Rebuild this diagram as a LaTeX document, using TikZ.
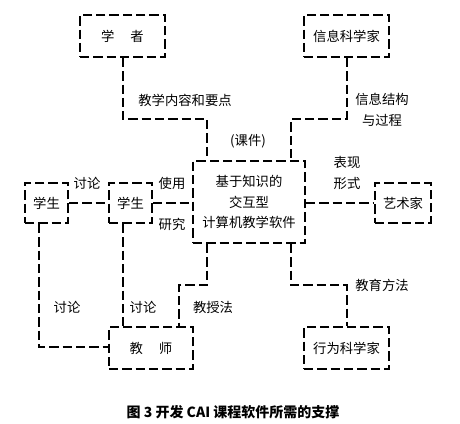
\documentclass[tikz,border=0pt]{standalone}
\usepackage{fontspec}
\newfontfamily\cjk{Noto Sans CJK SC}
\begin{document}
\begin{tikzpicture}[x=0.75pt,y=-0.75pt,
  every node/.style={font=\cjk\fontsize{10}{15.4}\selectfont},
  box/.style={draw,line width=1.5pt,dash pattern=on 7pt off 3pt,inner sep=0pt,align=center},
  wire/.style={line width=1.5pt,dash pattern=on 7pt off 3pt},
  tag/.style={align=center,inner sep=1pt}]
  \useasboundingbox (0,0) rectangle (460,424);
  % boxes -- centre x / centre y / width / height, all in pixels
  \foreach \name/\x/\y/\w/\h/\txt in {xz/122.5/36/85/42/{学\hspace{1.2em}者},
                                     xxk/346.5/36/85/42/信息科学家,
                                     ctr/249/202/112/82/{基于知识的\\交互型\\计算机教学软件},
                                     xs1/46.5/203/43/40/学生, xs2/130.5/203/43/40/学生,
                                     ysj/403/203/56/40/艺术家,
                                     js/151/348/84/42/{教\hspace{1.2em}师},
                                     xwk/346.5/348/85/42/行为科学家}{
    \node[box,minimum width=\w*0.75pt,minimum height=\h*0.75pt] (\name) at (\x,\y) {\txt};}
  % bends of the connectors
  \coordinate (k1) at (207,119);
  \coordinate (k2) at (291,119);
  \coordinate (k3) at (207,285);
  \coordinate (k4) at (179,285);
  \coordinate (k5) at (291,285);
  \coordinate (k6) at (39,347);
  \coordinate (k7) at (123,327);
  % connectors
  \draw[wire] (xz.south) |- (k1) -- (k1 |- ctr.north);
  \draw[wire] (xxk.south) |- (k2) -- (k2 |- ctr.north);
  \draw[wire] (xs1.east) -- (xs2.west);
  \draw[wire] (xs2.east) -- (xs2.east -| ctr.west);
  \draw[wire] (ysj.west -| ctr.east) -- (ysj.west);
  \draw[wire] (k3 |- ctr.south) -- (k3) -- (k4) -- (k4 |- js.north);
  \draw[wire] (k5 |- ctr.south) -- (k5) -| (xwk.north);
  \draw[wire] (k6 |- xs1.south) -- (k6) -- (k6 -| js.west);
  \draw[wire] (k7 |- xs2.south) -- (k7 |- js.north);
  % labels
  \node[tag] (nr) at (185,100) {教学内容和要点};
  \node[tag] (jg) at (382,110) {信息结构\\与过程};
  \node[tag] (kj) at (248,141) {(课件)};
  \node[tag] (tl1) at (87,183) {讨论};
  \node[tag] (sy) at (172,183) {使用};
  \node[tag] (yj) at (172,224) {研究};
  \node[tag] (bx) at (347,173) {表现\\形式};
  \node[tag] (jsf) at (213,307) {教授法};
  \node[tag] (jyf) at (382,285) {教育方法};
  \node[tag] (tl2) at (67,307) {讨论};
  \node[tag] (tl3) at (143,307) {讨论};
  \node[tag,font=\cjk\bfseries\fontsize{10.5}{12}\selectfont] (cap) at (233,412)
       {图 3 开发 CAI 课程软件所需的支撑};
\end{tikzpicture}
\end{document}
